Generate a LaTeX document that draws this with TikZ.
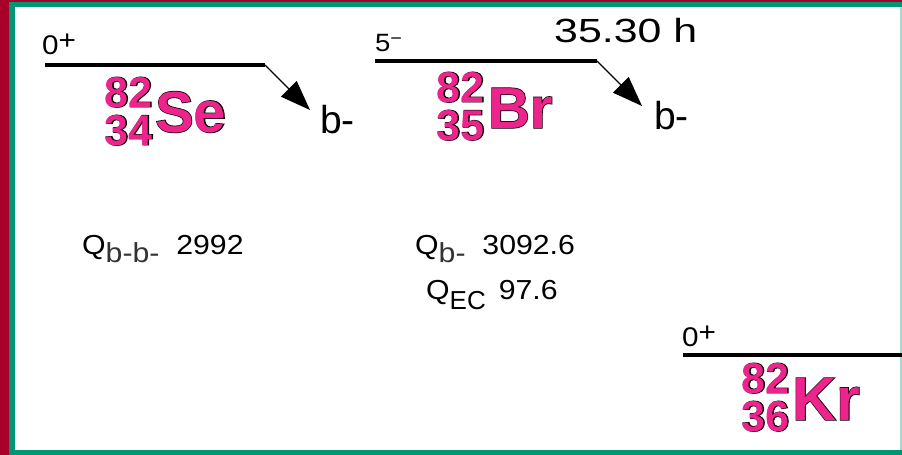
\documentclass[tikz,border=0pt]{standalone}
\usepackage{fontspec}
\setmainfont{Liberation Sans}
\newfontfamily\widefont{Liberation Sans}[FakeStretch=1.28]
\newfontfamily\qfont{Liberation Sans}[FakeStretch=1.1]
\usetikzlibrary{arrows.meta}

\definecolor{framered}{RGB}{168,0,40}
\definecolor{framegreen}{RGB}{0,150,115}
\definecolor{nucpink}{RGB}{236,36,140}

% dark rim under the pink nuclide text
\newcommand{\rimmed}[1]{\rlap{\color{black}\addfontfeatures{FakeBold=2.2}#1}#1}
\newcommand{\qsub}[1]{\raisebox{-8pt}{\color{black!80}#1}}

\tikzset{
    level/.style={line width=4pt},
    decay/.style={-{Triangle[length=30pt, width=22pt]}, line width=1.2pt},
    spin/.style={inner sep=0pt, anchor=base west, font=\qfont\fontsize{27}{27}\selectfont},
    beta/.style={inner sep=0pt, anchor=base west, font=\fontsize{39}{39}\selectfont},
    qval/.style={inner sep=0pt, anchor=base west, font=\qfont\fontsize{27.5}{27.5}\selectfont},
    nucnum/.style={inner sep=0pt, anchor=base east, text=nucpink,
        font=\bfseries\fontsize{43}{43}\selectfont},
    nucsym/.style={inner sep=0pt, anchor=base west, text=nucpink,
        font=\bfseries\fontsize{58}{58}\selectfont}
}

\begin{document}
\begin{tikzpicture}[x=1pt, y=-1pt]
    % frame
    \fill[framered] (0,0) rectangle (902,455);
    \fill[framegreen] (9,2) rectangle (902,455);
    \fill[white] (15,7) rectangle (900,450);
    \fill[framegreen!35] (900,7) rectangle (902,450);
    \useasboundingbox (0,0) rectangle (902,455);

    % Se-82
    \coordinate (SeL) at (45,65);
    \coordinate (SeR) at (265,65);
    \draw[level] (SeL) -- (SeR);
    \node[spin] (spinSe) at (42,54) {0\raisebox{5pt}{+}};
    \node[nucnum] (ASe) at (153,107) {\rimmed{82}};
    \node[nucnum] (ZSe) at (153,145) {\rimmed{34}};
    \node[nucsym] (Se) at (155,132) {\rimmed{Se}};
    \coordinate (SeTip) at (310,110);
    \draw[decay] (SeR) -- (SeTip);
    \node[beta] (betaSe) at (320,133) {b-};
    \node[qval] (QSe) at (82,254) {Q\qsub{b-b-}\ \ 2992};

    % Br-82
    \coordinate (BrL) at (375,61);
    \coordinate (BrR) at (597,61);
    \draw[level] (BrL) -- (BrR);
    \node[spin, font=\qfont\fontsize{25}{25}\selectfont] (spinBr) at (375,51)
        {5\raisebox{7pt}{\fontsize{18}{18}\selectfont −}};
    \node[spin, font=\widefont\fontsize{33.5}{33.5}\selectfont] (halfBr) at (554,42) {35.30 h};
    \node[nucnum] (ABr) at (485,102) {\rimmed{82}};
    \node[nucnum] (ZBr) at (485,140) {\rimmed{35}};
    \node[nucsym] (Br) at (488,128) {\rimmed{Br}};
    \coordinate (BrTip) at (642,106);
    \draw[decay] (BrR) -- (BrTip);
    \node[beta] (betaBr) at (654,129) {b-};
    \node[qval] (QBr) at (415,254) {Q\qsub{b-}\ \ 3092.6};
    \node[qval] (QEC) at (426,299)
        {Q\raisebox{-10pt}{\fontspec{Liberation Sans}\fontsize{26}{26}\selectfont EC}\ \,97.6};

    % Kr-82
    \coordinate (KrL) at (683,355);
    \coordinate (KrR) at (902,355);
    \draw[level] (KrL) -- (KrR);
    \node[spin] (spinKr) at (682,346) {0\raisebox{5pt}{+}};
    \node[nucnum] (AKr) at (790,393) {\rimmed{82}};
    \node[nucnum] (ZKr) at (790,431) {\rimmed{36}};
    \node[nucsym, font=\bfseries\fontsize{61}{61}\selectfont] (Kr) at (792,420) {\rimmed{Kr}};
\end{tikzpicture}
\end{document}
